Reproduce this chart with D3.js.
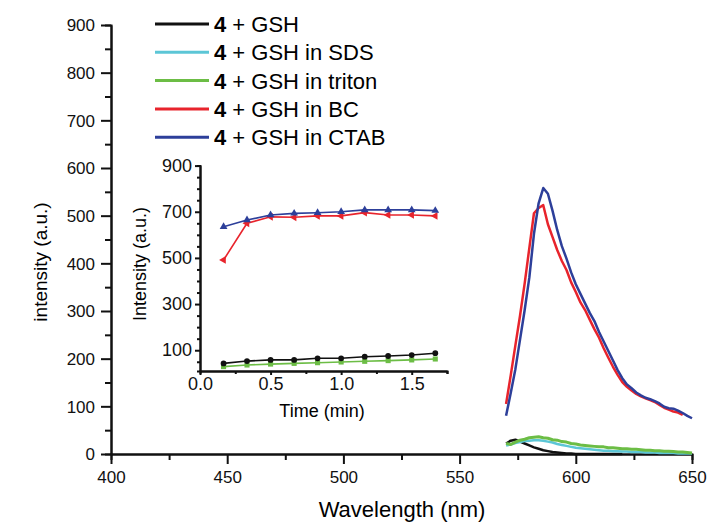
<!DOCTYPE html>
<html>
<head>
<meta charset="utf-8">
<script src="https://cdn.jsdelivr.net/npm/d3@7/dist/d3.min.js"></script>
<style>
body { margin: 0; background: #fff; }
svg { font-family: "Liberation Sans", Arial, sans-serif; }
.axis path, .axis line { stroke: #111; }
.axis text { fill: #111; }
</style>
</head>
<body>
<div id="chart"></div>
<script>
'use strict';

// emission spectra (nm), 2 nm steps
var wavelength = [570, 572, 574, 576, 578, 580, 582, 584, 586, 588, 590, 592, 594, 596, 598, 600,
    602, 604, 606, 608, 610, 612, 614, 616, 618, 620, 622, 624, 626, 628, 630, 632, 634, 636,
    638, 640, 642, 644, 646, 648, 650];

var specGsh = [22, 28, 30, 26, 22, 18, 14, 11, 8, 6, 4, 3, 2, 1, 1, 0, 0, 0, 0, 0, 0, 0, 0, 0, 0, 0];
var specSds = [18, 20, 23, 25, 27, 28, 29, 29, 28, 26, 24, 21, 19, 17, 15, 13, 12, 11, 10, 9, 8, 7,
    7, 6, 6, 5, 5, 4, 4, 4, 3, 3, 3, 2, 2, 2, 2, 1, 1, 1, 1];
var specTriton = [22, 20, 25, 29, 31, 34, 35, 36, 34, 33, 30, 29, 26, 25, 22, 21, 19, 18, 17, 16,
    15, 15, 13, 13, 12, 11, 11, 10, 10, 9, 8, 8, 7, 7, 6, 6, 5, 4, 4, 3, 2];
var specBc = [105, 165, 228, 290, 358, 432, 505, 516, 522, 482, 455, 428, 405, 386, 360, 340,
    318, 302, 282, 262, 244, 222, 202, 183, 166, 151, 141, 133, 126, 121, 117, 113, 109, 103,
    97, 93, 89, 87, 82];
var specCtab = [80, 128, 178, 240, 302, 370, 462, 526, 558, 546, 510, 470, 436, 410, 381, 356,
    336, 316, 296, 279, 256, 236, 216, 196, 176, 159, 146, 138, 129, 123, 118, 115, 111, 106,
    99, 96, 95, 91, 86, 80, 75];

// inset: intensity vs time (min)
var time = [0.167, 0.333, 0.5, 0.667, 0.833, 1.0, 1.167, 1.333, 1.5, 1.667];
var kinGsh = [43, 53, 58, 58, 65, 65, 72, 75, 79, 87];
var kinTriton = [29, 36, 40, 43, 46, 49, 52, 55, 58, 62];
var kinBc = [491, 650, 678, 676, 682, 682, 696, 686, 686, 682];
var kinCtab = [635, 664, 686, 693, 696, 700, 708, 708, 708, 705];

var legendLabels = [' + GSH', ' + GSH in SDS', ' + GSH in triton', ' + GSH in BC', ' + GSH in CTAB'];
var colors = ['#111111', '#5cc6d6', '#6cbd45', '#e8242c', '#2d3f9a'];

var yTicksMain = [0, 100, 200, 300, 400, 500, 600, 700, 800, 900];
var xTicksMain = [400, 450, 500, 550, 600, 650];
var yTicksInset = [100, 300, 500, 700, 900];
var xTicksInset = [0.0, 0.5, 1.0, 1.5];

var width = 709, height = 524;

var svg = d3.select('#chart').append('svg')
    .attr('width', width)
    .attr('height', height);

// ---- main chart ----
var x = d3.scaleLinear().domain([400, 650]).range([111, 692]);
var y = d3.scaleLinear().domain([0, 900]).range([454, 25]);

var drawAxis = function drawAxis(g, axis) {
    g.call(axis);
    g.select('.domain').attr('stroke-width', 2);
    g.selectAll('.tick line').attr('stroke-width', 2);
};

var yMinor = svg.append('g').attr('class', 'axis').attr('transform', 'translate(111,0)');
drawAxis(yMinor, d3.axisLeft(y).tickValues(yTicksMain.slice(0, -1).map(function (d) { return d + 50; }))
    .tickSize(6).tickFormat(''));
var yAxis = svg.append('g').attr('class', 'axis').attr('transform', 'translate(111,0)');
drawAxis(yAxis, d3.axisLeft(y).tickValues(yTicksMain).tickSize(10).tickPadding(6).tickSizeOuter(0));
yAxis.selectAll('text').attr('font-size', 17).attr('dy', '0.35em');

var xMinor = svg.append('g').attr('class', 'axis').attr('transform', 'translate(0,454)');
drawAxis(xMinor, d3.axisBottom(x).tickValues(xTicksMain.slice(0, -1).map(function (d) { return d + 25; }))
    .tickSize(6).tickFormat(''));
var xAxis = svg.append('g').attr('class', 'axis').attr('transform', 'translate(0,454)');
drawAxis(xAxis, d3.axisBottom(x).tickValues(xTicksMain).tickSize(10).tickPadding(7).tickSizeOuter(0));
xAxis.selectAll('text').attr('font-size', 17);

svg.append('text')
    .attr('transform', 'translate(47,262) rotate(-90)')
    .attr('text-anchor', 'middle')
    .attr('font-size', 19)
    .text('intensity (a.u.)');

svg.append('text')
    .attr('x', 402)
    .attr('y', 517)
    .attr('text-anchor', 'middle')
    .attr('font-size', 22)
    .text('Wavelength (nm)');

var spectra = [specGsh, specSds, specTriton, specBc, specCtab];
var widths = [2.5, 2.5, 3, 2.5, 2.5];
var specLine = d3.line()
    .x(function (d) { return x(d[0]); })
    .y(function (d) { return y(d[1]); });

spectra.forEach(function (values, i) {
    var pts = values.map(function (v, k) { return [wavelength[k], v]; });
    svg.append('path')
        .datum(pts)
        .attr('fill', 'none')
        .attr('stroke', colors[i])
        .attr('stroke-width', widths[i])
        .attr('stroke-linejoin', 'round')
        .attr('d', specLine);
});

// legend
var legend = svg.append('g').attr('class', 'legend');
legendLabels.forEach(function (label, i) {
    var ly = 24 + i * 28.3;
    legend.append('line')
        .attr('x1', 155).attr('x2', 209)
        .attr('y1', ly).attr('y2', ly)
        .attr('stroke', colors[i])
        .attr('stroke-width', 3);
    var t = legend.append('text')
        .attr('x', 214)
        .attr('y', ly)
        .attr('dy', '0.36em')
        .attr('font-size', 22);
    t.append('tspan').attr('font-weight', 'bold').text('4');
    t.append('tspan').text(label);
});

// ---- inset ----
var xi = d3.scaleLinear().domain([0, 1.75]).range([200, 447]);
var yi = d3.scaleLinear().domain([10, 900]).range([371, 165.6]);

var yiMinor = svg.append('g').attr('class', 'axis').attr('transform', 'translate(200,0)');
drawAxis(yiMinor, d3.axisLeft(yi).tickValues([50, 150, 200, 250, 350, 400, 450, 550, 600, 650, 750, 800, 850])
    .tickSize(3).tickFormat(''));
var yiAxis = svg.append('g').attr('class', 'axis').attr('transform', 'translate(200,0)');
drawAxis(yiAxis, d3.axisLeft(yi).tickValues(yTicksInset).tickSize(5).tickPadding(3).tickSizeOuter(0));
yiAxis.selectAll('text').attr('font-size', 18);

var xiMinor = svg.append('g').attr('class', 'axis').attr('transform', 'translate(0,371)');
drawAxis(xiMinor, d3.axisBottom(xi).tickValues([0.25, 0.75, 1.25, 1.75]).tickSize(3).tickFormat(''));
var xiAxis = svg.append('g').attr('class', 'axis').attr('transform', 'translate(0,371)');
drawAxis(xiAxis, d3.axisBottom(xi).tickValues(xTicksInset).tickSize(4).tickPadding(2)
    .tickSizeOuter(0).tickFormat(d3.format('.1f')));
xiAxis.selectAll('text').attr('font-size', 18);

svg.append('text')
    .attr('transform', 'translate(146,264) rotate(-90)')
    .attr('text-anchor', 'middle')
    .attr('font-size', 18)
    .text('Intensity (a.u.)');

svg.append('text')
    .attr('x', 322)
    .attr('y', 417)
    .attr('text-anchor', 'middle')
    .attr('font-size', 18)
    .text('Time (min)');

var kinLine = d3.line()
    .x(function (d) { return xi(d[0]); })
    .y(function (d) { return yi(d[1]); });

var kinetics = [
    { values: kinTriton, color: colors[2], symbol: d3.symbolSquare, rotate: 0 },
    { values: kinGsh, color: colors[0], symbol: d3.symbolCircle, rotate: 0 },
    { values: kinBc, color: colors[3], symbol: d3.symbolTriangle, rotate: -90 },
    { values: kinCtab, color: colors[4], symbol: d3.symbolTriangle, rotate: 0 }
];

kinetics.forEach(function (s) {
    var pts = s.values.map(function (v, k) { return [time[k], v]; });
    svg.append('path')
        .datum(pts)
        .attr('fill', 'none')
        .attr('stroke', s.color)
        .attr('stroke-width', 1.6)
        .attr('d', kinLine);
    svg.append('g').selectAll('path')
        .data(pts)
        .enter().append('path')
        .attr('d', d3.symbol().type(s.symbol).size(26))
        .attr('fill', s.color)
        .attr('transform', function (d) {
            return 'translate(' + xi(d[0]) + ',' + yi(d[1]) + ') rotate(' + s.rotate + ')';
        });
});
</script>
</body>
</html>
